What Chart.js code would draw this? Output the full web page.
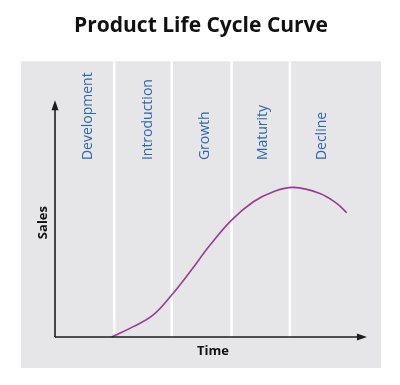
<!DOCTYPE html>
<html>
<head>
<meta charset="utf-8">
<script src="https://cdn.jsdelivr.net/npm/chart.js@4/dist/chart.umd.min.js"></script>
<style>
  html, body { margin: 0; padding: 0; background: #ffffff; }
  #wrap { width: 400px; height: 385px; }
</style>
</head>
<body>
<div id="wrap"><canvas id="c" width="400" height="385"></canvas></div>
<script>
// ---- data ----
const chartTitle = 'Product Life Cycle Curve';
const xAxisTitle = 'Time';
const yAxisTitle = 'Sales';
const stages = ['Development', 'Introduction', 'Growth', 'Maturity', 'Decline'];
const stageBoundaries = [19.0, 37.4, 56.6, 75.3];
const stageLabelX = [10.6, 29.8, 48.1, 66.7, 85.6];
const timeValues  = [18.2, 25.1, 31.5, 37.4, 43.3, 49.7, 56.6, 63.6, 70.0, 76.4, 84.9, 90.3, 93.5];
const salesValues = [0, 6.9, 14.7, 28, 43.5, 61.3, 78, 90.2, 96.9, 99.8, 95.8, 89.1, 82.9];

const points = timeValues.map((t, i) => ({ x: t, y: salesValues[i] }));

const X_MIN = -10.9, X_MAX = 104.5, Y_MIN = -20.7, Y_MAX = 184;
const X_AXIS_END = 100, Y_AXIS_END = 158, STAGE_LABEL_BASE = 118;

const bgPlugin = {
  id: 'stageBands',
  beforeDatasetsDraw(chart) {
    const { ctx, chartArea: a, scales: { x, y } } = chart;
    ctx.save();
    ctx.fillStyle = '#e6e6e8';
    ctx.fillRect(a.left, a.top, a.right - a.left, a.bottom - a.top);
    ctx.strokeStyle = '#ffffff';
    ctx.lineWidth = 2.5;
    stageBoundaries.forEach(b => {
      const px = x.getPixelForValue(b);
      ctx.beginPath();
      ctx.moveTo(px, a.top);
      ctx.lineTo(px, y.getPixelForValue(0));
      ctx.stroke();
    });
    // stage labels
    ctx.fillStyle = '#2f67ad';
    ctx.font = '14px "Open Sans", sans-serif';
    ctx.textAlign = 'left';
    ctx.textBaseline = 'middle';
    stages.forEach((s, i) => {
      ctx.save();
      ctx.translate(x.getPixelForValue(stageLabelX[i]), y.getPixelForValue(STAGE_LABEL_BASE));
      ctx.rotate(-Math.PI / 2);
      ctx.fillText(s, 0, 0);
      ctx.restore();
    });
    ctx.restore();
  },
  afterDatasetsDraw(chart) {
    const { ctx, scales: { x, y } } = chart;
    const x0 = x.getPixelForValue(0), y0 = y.getPixelForValue(0);
    const xe = x.getPixelForValue(X_AXIS_END), ye = y.getPixelForValue(Y_AXIS_END);
    ctx.save();
    ctx.strokeStyle = '#1e1e1e';
    ctx.fillStyle = '#1e1e1e';
    ctx.lineWidth = 1.6;
    ctx.beginPath();
    ctx.moveTo(x0, y0);
    ctx.lineTo(xe - 8, y0);
    ctx.moveTo(x0, y0);
    ctx.lineTo(x0, ye + 8);
    ctx.stroke();
    // arrow heads
    ctx.beginPath();
    ctx.moveTo(xe, y0);
    ctx.lineTo(xe - 10, y0 - 3.5);
    ctx.lineTo(xe - 10, y0 + 3.5);
    ctx.closePath();
    ctx.fill();
    ctx.beginPath();
    ctx.moveTo(x0, ye);
    ctx.lineTo(x0 - 3.5, ye + 10);
    ctx.lineTo(x0 + 3.5, ye + 10);
    ctx.closePath();
    ctx.fill();
    // axis titles
    ctx.fillStyle = '#111111';
    ctx.font = 'bold 13px "Open Sans", sans-serif';
    ctx.textAlign = 'center';
    ctx.textBaseline = 'middle';
    ctx.fillText(xAxisTitle, (x0 + xe) / 2 + 2, y0 + 14);
    ctx.save();
    ctx.translate(x0 - 12, (y0 + ye) / 2 + 4);
    ctx.rotate(-Math.PI / 2);
    ctx.fillText(yAxisTitle, 0, 0);
    ctx.restore();
    ctx.restore();
  }
};

new Chart(document.getElementById('c'), {
  type: 'line',
  data: {
    datasets: [{
      data: points,
      borderColor: '#953f8f',
      borderWidth: 1.6,
      pointRadius: 0,
      fill: false,
      tension: 0.4
    }]
  },
  options: {
    responsive: false,
    animation: false,
    layout: { padding: { left: 21, right: 19, top: 0, bottom: 17 } },
    scales: {
      x: { type: 'linear', min: X_MIN, max: X_MAX, display: false },
      y: { type: 'linear', min: Y_MIN, max: Y_MAX, display: false }
    },
    plugins: {
      legend: { display: false },
      tooltip: { enabled: false },
      title: {
        display: true,
        text: chartTitle,
        color: '#111111',
        font: { family: '"Open Sans", sans-serif', size: 21, weight: 'bold', lineHeight: 1.2 },
        padding: { top: 13, bottom: 23 }
      }
    }
  },
  plugins: [bgPlugin]
});
</script>
</body>
</html>
